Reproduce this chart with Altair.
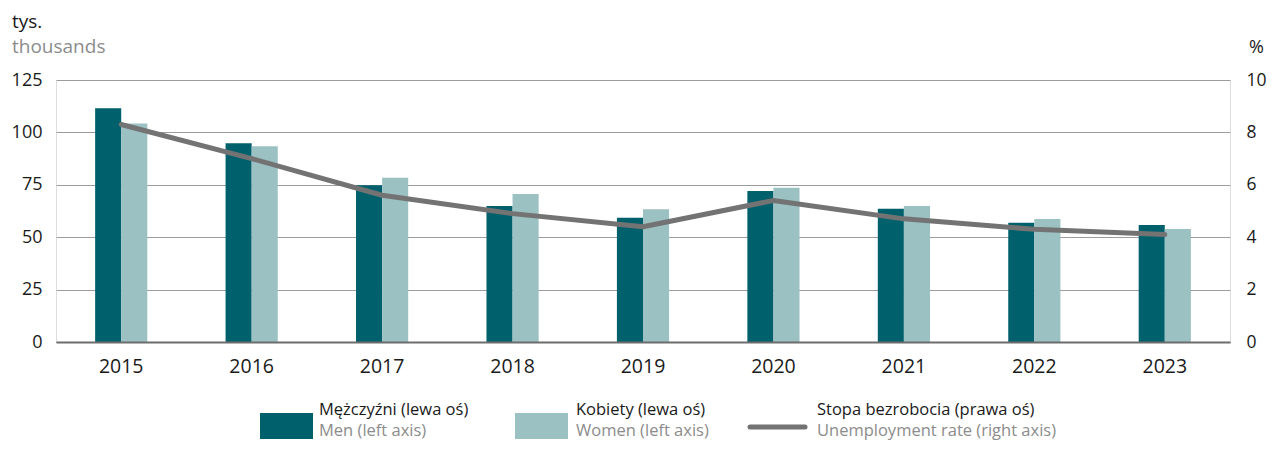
import altair as alt
import pandas as pd

years = ["2015", "2016", "2017", "2018", "2019", "2020", "2021", "2022", "2023"]
men = [111.5, 94.8, 74.8, 64.9, 59.3, 72.0, 63.6, 56.9, 55.8]
women = [104.3, 93.4, 78.4, 70.6, 63.3, 73.6, 64.9, 58.7, 53.9]
rate = [8.3, 7.0, 5.6, 4.9, 4.4, 5.4, 4.7, 4.3, 4.1]

series = ["Mężczyźni", "Kobiety"]
left_ticks = [0, 25, 50, 75, 100, 125]
right_ticks = [0, 2, 4, 6, 8, 10]

leg_main = ["Mężczyźni (lewa oś)", "Kobiety (lewa oś)", "Stopa bezrobocia (prawa oś)"]
leg_sub = ["Men (left axis)", "Women (left axis)", "Unemployment rate (right axis)"]

FONT = "Open Sans"
MEN_C = "#00616d"
WOMEN_C = "#9bc1c3"
LINE_C = "#737373"
BLACK = "#1a1a1a"
GRAY = "#8c8c8c"

bars_df = pd.DataFrame({
    "year": years * 2,
    "sex": [series[0]] * len(years) + [series[1]] * len(years),
    "value": men + women,
})
line_df = pd.DataFrame({"year": years, "rate": rate})

x_enc = alt.X(
    "year:N", sort=years, title=None,
    scale=alt.Scale(paddingInner=0.6, paddingOuter=0.3),
    axis=alt.Axis(labelAngle=0, labelFontSize=19.5, labelColor=BLACK, labelFont=FONT,
                  ticks=False, domainColor="#6d6d6d", domainWidth=2, labelPadding=15,
                  grid=False, zindex=1),
)

bars = alt.Chart(bars_df).mark_bar().encode(
    x=x_enc,
    xOffset=alt.XOffset("sex:N", sort=series, scale=alt.Scale(paddingInner=0, paddingOuter=0)),
    y=alt.Y("value:Q", title=None,
            scale=alt.Scale(domain=[0, 125], nice=False, zero=True),
            axis=alt.Axis(values=left_ticks, grid=True, gridColor="#9c9c9c", gridWidth=1,
                          domain=False, ticks=False, labelFontSize=18, labelColor=BLACK,
                          labelFont=FONT, labelPadding=14)),
    color=alt.Color("sex:N", sort=series, legend=None,
                    scale=alt.Scale(domain=series, range=[MEN_C, WOMEN_C])),
)

line = alt.Chart(line_df).mark_line(
    interpolate="linear", strokeWidth=5, color=LINE_C, strokeCap="round", strokeJoin="round"
).encode(
    x=alt.X("year:N", sort=years),
    y=alt.Y("rate:Q", title=None,
            scale=alt.Scale(domain=[0, 10], nice=False),
            axis=alt.Axis(orient="right", values=right_ticks, grid=False, domain=False,
                          ticks=False, labelFontSize=17.5, labelColor=BLACK, labelFont=FONT,
                          labelPadding=16)),
)

def txt(s, x, y, color=BLACK, size=16.5, align="left"):
    return alt.Chart(pd.DataFrame({"t": [s]})).mark_text(
        align=align, baseline="alphabetic", font=FONT, fontSize=size, color=color
    ).encode(text="t:N", x=alt.value(x), y=alt.value(y))

def rect(x1, x2, y1, y2, color):
    return alt.Chart(pd.DataFrame({"t": [0]})).mark_rect(color=color).encode(
        x=alt.value(x1), x2=alt.value(x2), y=alt.value(y1), y2=alt.value(y2))

def rule(x1, x2, y, color):
    return alt.Chart(pd.DataFrame({"t": [0]})).mark_rule(
        color=color, strokeWidth=5, strokeCap="round").encode(
        x=alt.value(x1), x2=alt.value(x2), y=alt.value(y))

annot = [
    txt("tys.", -44, -52, size=19),
    txt("thousands", -44, -27, color=GRAY, size=19),
    txt("%", 1193, -27, size=18),
    rect(204, 257, 333, 359, MEN_C),
    rect(459, 512, 333, 359, WOMEN_C),
    rule(694, 749, 347, LINE_C),
    txt(leg_main[0], 263, 335),
    txt(leg_sub[0], 263, 355.5, color=GRAY),
    txt(leg_main[1], 520, 335),
    txt(leg_sub[1], 520, 355.5, color=GRAY),
    txt(leg_main[2], 761, 335),
    txt(leg_sub[2], 761, 355.5, color=GRAY),
]

chart = alt.layer(bars, line, *annot).resolve_scale(y="independent").properties(
    width=1174, height=262,
    autosize=alt.AutoSizeParams(type="none"),
    padding={"left": 48, "top": 72, "right": 36, "bottom": 99},
).configure_view(stroke=None).configure(font=FONT)

chart.save("out.html", embed_options={"renderer": "svg", "actions": False})
